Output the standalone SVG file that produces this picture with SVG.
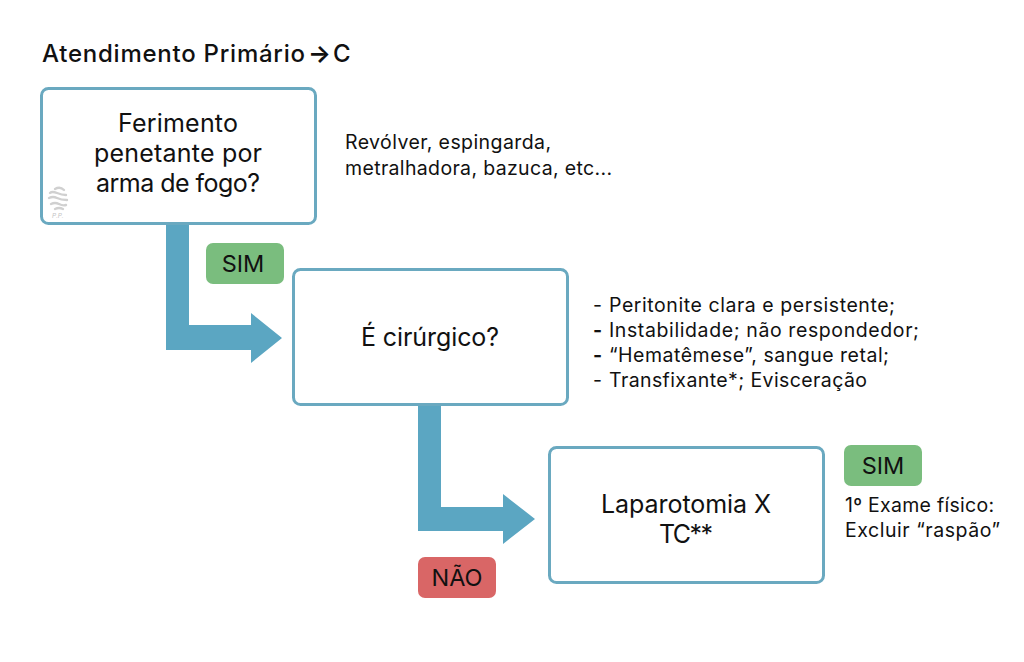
<svg xmlns="http://www.w3.org/2000/svg" width="1024" height="662" viewBox="0 0 1024 662">
<style>
text{font-family:"Inter","Liberation Sans",sans-serif;fill:#111}
.box{fill:#fff;stroke:#6aa9c0;stroke-width:3}
.arrow{fill:#5ba6c2}
.t{font-size:25px;text-anchor:middle}
.s{font-size:19.5px}
.tag{font-size:23.5px;text-anchor:middle}
.g{fill:#7abd7e}
.r{fill:#d96666}
.b{font-weight:700}
</style>
<rect width="1024" height="662" fill="#fff"/>
<text id="title" y="62" style="font-size:24px;font-weight:500"><tspan x="42" textLength="263">Atendimento Primário</tspan><tspan x="308" font-weight="700">→</tspan><tspan x="333">C</tspan></text>
<g id="connectors">
<path class="arrow" d="M166 224H189V325H251V313L282 338L251 363V350H166Z"/>
<path class="arrow" d="M418 405H441V507H503V494L535 519L503 544V531H418Z"/>
</g>
<g id="node-ferimento">
<rect class="box" x="41.500" y="88.500" width="274" height="135" rx="7"/>
<text class="t" x="178" y="132" textLength="120">Ferimento</text>
<text class="t" x="178" y="162" textLength="168">penetante por</text>
<text class="t" x="178" y="192" textLength="164">arma de fogo?</text>
</g>
<g id="watermark" fill="none" stroke="#d0d0d0" stroke-width="2.400" stroke-linecap="round">
<path d="M55 189Q60 186 64 190M50 193Q52 191 57 193T66 195M49 198Q53 196 57 198T67 200M51 204Q55 202 59 204T66 205M55 209Q59 207 63 209"/>
<text x="52" y="218" style="font-size:6.500px;font-style:italic;fill:#c4c4c4;stroke:none">P.P.</text>
</g>
<g id="note-armas">
<text class="s" x="345" y="149" textLength="206">Revólver, espingarda,</text>
<text class="s" x="345" y="175" textLength="267">metralhadora, bazuca, etc...</text>
</g>
<g id="tag-sim-1">
<rect class="g" x="206" y="243" width="78" height="41" rx="7"/>
<text class="tag" x="243" y="272">SIM</text>
</g>
<g id="node-cirurgico">
<rect class="box" x="293.500" y="269.500" width="274" height="135" rx="7"/>
<text class="t" x="430" y="346" textLength="138">É cirúrgico?</text>
</g>
<g id="note-criterios">
<text class="s" y="312"><tspan x="593">-</tspan><tspan x="609" textLength="286">Peritonite clara e persistente;</tspan></text>
<text class="s" y="337"><tspan x="593" class="b">-</tspan><tspan x="609" textLength="310">Instabilidade; não respondedor;</tspan></text>
<text class="s" y="362"><tspan x="593" class="b">-</tspan><tspan x="609" textLength="280">“Hematêmese”, sangue retal;</tspan></text>
<text class="s" y="387"><tspan x="593">-</tspan><tspan x="609" textLength="258">Transfixante*; Evisceração</tspan></text>
</g>
<g id="node-laparotomia">
<rect class="box" x="549.500" y="447.500" width="274" height="135" rx="7"/>
<text class="t" x="686" y="513" textLength="170">Laparotomia X</text>
<text class="t" x="686" y="543" textLength="54">TC**</text>
</g>
<g id="tag-sim-2">
<rect class="g" x="844" y="445" width="78" height="41" rx="7"/>
<text class="tag" x="883" y="474">SIM</text>
</g>
<g id="note-exame">
<text class="s" x="845" y="512" textLength="149">1º Exame físico:</text>
<text class="s" x="845" y="537" textLength="155">Excluir “raspão”</text>
</g>
<g id="tag-nao">
<rect class="r" x="418" y="557" width="78" height="41" rx="7"/>
<text class="tag" x="457" y="586">NÃO</text>
</g>
</svg>
